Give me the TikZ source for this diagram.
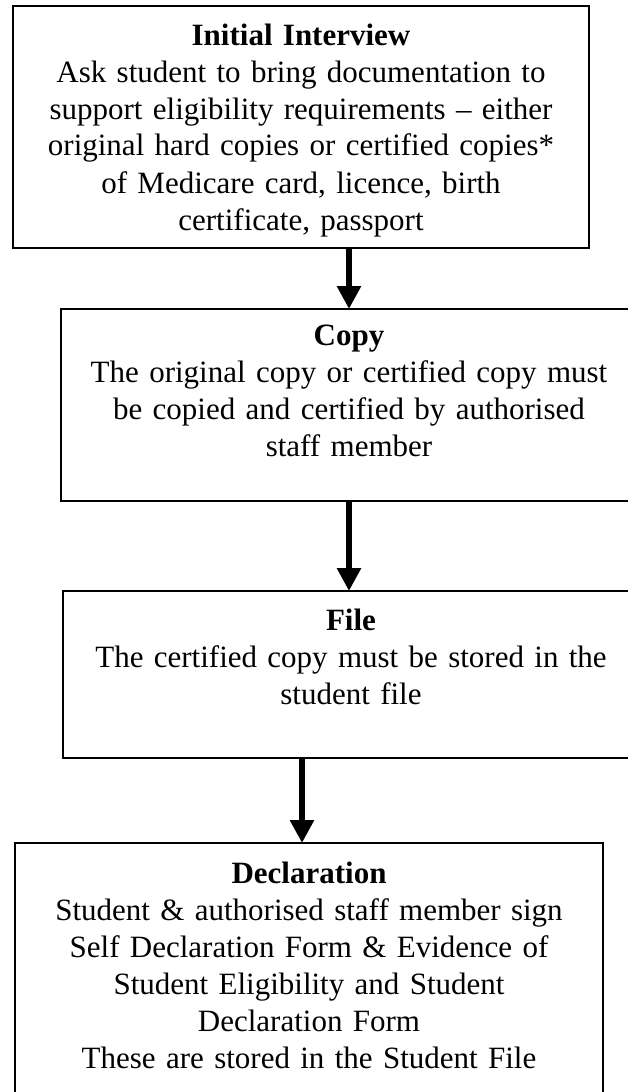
\documentclass[tikz,border=0pt]{standalone}
\usepackage{fontspec}
\setmainfont{Liberation Serif}
\usetikzlibrary{calc, arrows.meta}

\begin{document}
\begin{tikzpicture}[x=1pt, y=1pt,
    stage/.style={draw, line width=1.8pt, rectangle, inner sep=0pt, outer sep=0pt, anchor=north west},
    stagetext/.style={anchor=base, text width=600pt, align=center, inner sep=0pt, font=\fontsize{31}{37}\selectfont},
    flow/.style={line width=6pt, -{Triangle[width=23pt, length=23pt]}}]
      \useasboundingbox (0,0) rectangle (627,-1092);

      \node[stage, minimum width=576, minimum height=242] (interview) at (13,-6) {};
      \node[stage, minimum width=576, minimum height=192] (copy) at (61,-309) {};
      \node[stage, minimum width=576, minimum height=167] (file) at (63,-591) {};
      \node[stage, minimum width=588, minimum height=260] (decl) at (15,-843) {};

      \node[stagetext] (interviewtext) at ([yshift=-39pt]interview.north) {\textbf{Initial Interview}\\Ask student to bring documentation to\\support eligibility requirements – either\\original hard copies or certified copies*\\of Medicare card, licence, birth\\certificate, passport};
      \node[stagetext] (copytext) at ([yshift=-36pt]copy.north) {\textbf{Copy}\\The original copy or certified copy must\\be copied and certified by authorised\\staff member};
      \node[stagetext] (filetext) at ([yshift=-39pt]file.north) {\textbf{File}\\The certified copy must be stored in the\\student file};
      \node[stagetext] (decltext) at ([yshift=-40pt]decl.north) {\textbf{Declaration}\\Student \& authorised staff member sign\\Self Declaration Form \& Evidence of\\Student Eligibility and Student\\Declaration Form\\These are stored in the Student File};

      \draw[flow] (interview.south -| copy.north) -- (copy.north);
      \draw[flow] (copy.south) -- (copy.south |- file.north);
      \draw[flow] ($(file.south -| decl.north)+(-7,0)$) -- ($(decl.north)+(-7,0)$);
    \end{tikzpicture}
\end{document}
